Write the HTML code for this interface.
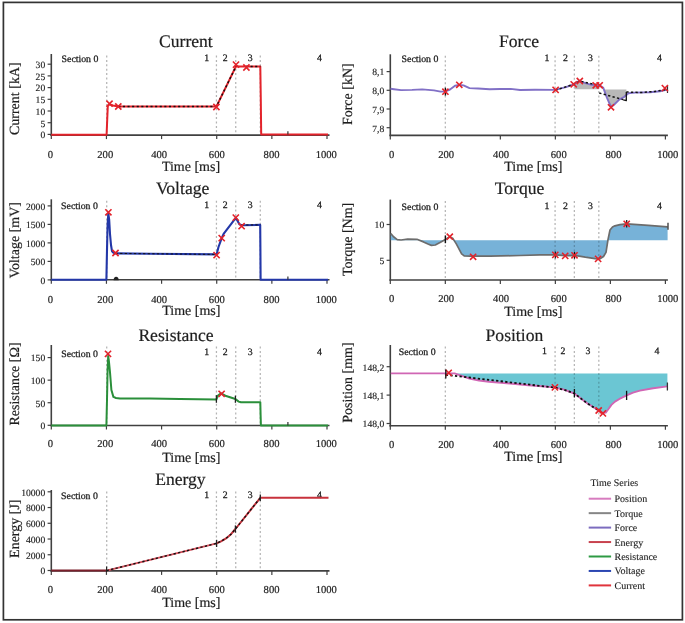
<!DOCTYPE html>
<html><head><meta charset="utf-8"><style>
html,body{margin:0;padding:0;background:#fff;}
svg{display:block;filter:blur(0.35px);}
</style></head><body>
<svg width="685" height="623" viewBox="0 0 685 623" font-family='"Liberation Serif", serif' text-rendering="geometricPrecision">
<rect x="0" y="0" width="685" height="623" fill="#fff"/>
<text x="185.90" y="46.60" font-size="17.6" text-anchor="middle" fill="#1e1e1e" stroke="#1e1e1e" stroke-width="0.2" >Current</text>
<line x1="106.72" y1="55.50" x2="106.72" y2="135.10" stroke="#b4b4b4" stroke-width="1.25" stroke-dasharray="2,2.4"/>
<line x1="216.44" y1="55.50" x2="216.44" y2="135.10" stroke="#b4b4b4" stroke-width="1.25" stroke-dasharray="2,2.4"/>
<line x1="235.74" y1="55.50" x2="235.74" y2="135.10" stroke="#b4b4b4" stroke-width="1.25" stroke-dasharray="2,2.4"/>
<line x1="260.28" y1="55.50" x2="260.28" y2="135.10" stroke="#b4b4b4" stroke-width="1.25" stroke-dasharray="2,2.4"/>
<line x1="51.30" y1="54.00" x2="51.30" y2="135.80" stroke="#404040" stroke-width="1.6" />
<line x1="50.50" y1="135.10" x2="329.50" y2="135.10" stroke="#404040" stroke-width="1.6" />
<line x1="51.30" y1="135.10" x2="51.30" y2="139.10" stroke="#404040" stroke-width="1.2" />
<line x1="106.44" y1="135.10" x2="106.44" y2="139.10" stroke="#404040" stroke-width="1.2" />
<line x1="161.58" y1="135.10" x2="161.58" y2="139.10" stroke="#404040" stroke-width="1.2" />
<line x1="216.72" y1="135.10" x2="216.72" y2="139.10" stroke="#404040" stroke-width="1.2" />
<line x1="271.86" y1="135.10" x2="271.86" y2="139.10" stroke="#404040" stroke-width="1.2" />
<line x1="327.00" y1="135.10" x2="327.00" y2="139.10" stroke="#404040" stroke-width="1.2" />
<line x1="47.60" y1="134.40" x2="51.30" y2="134.40" stroke="#404040" stroke-width="1.2" />
<text x="45.20" y="138.20" font-size="9.6" text-anchor="end" fill="#1e1e1e" stroke="#1e1e1e" stroke-width="0.15" >0</text>
<line x1="47.60" y1="122.70" x2="51.30" y2="122.70" stroke="#404040" stroke-width="1.2" />
<text x="45.20" y="126.50" font-size="9.6" text-anchor="end" fill="#1e1e1e" stroke="#1e1e1e" stroke-width="0.15" >5</text>
<line x1="47.60" y1="111.00" x2="51.30" y2="111.00" stroke="#404040" stroke-width="1.2" />
<text x="45.20" y="114.80" font-size="9.6" text-anchor="end" fill="#1e1e1e" stroke="#1e1e1e" stroke-width="0.15" >10</text>
<line x1="47.60" y1="99.30" x2="51.30" y2="99.30" stroke="#404040" stroke-width="1.2" />
<text x="45.20" y="103.10" font-size="9.6" text-anchor="end" fill="#1e1e1e" stroke="#1e1e1e" stroke-width="0.15" >15</text>
<line x1="47.60" y1="87.60" x2="51.30" y2="87.60" stroke="#404040" stroke-width="1.2" />
<text x="45.20" y="91.40" font-size="9.6" text-anchor="end" fill="#1e1e1e" stroke="#1e1e1e" stroke-width="0.15" >20</text>
<line x1="47.60" y1="75.90" x2="51.30" y2="75.90" stroke="#404040" stroke-width="1.2" />
<text x="45.20" y="79.70" font-size="9.6" text-anchor="end" fill="#1e1e1e" stroke="#1e1e1e" stroke-width="0.15" >25</text>
<line x1="47.60" y1="64.20" x2="51.30" y2="64.20" stroke="#404040" stroke-width="1.2" />
<text x="45.20" y="68.00" font-size="9.6" text-anchor="end" fill="#1e1e1e" stroke="#1e1e1e" stroke-width="0.15" >30</text>
<text x="50.40" y="157.80" font-size="10.6" text-anchor="middle" fill="#1e1e1e" stroke="#1e1e1e" stroke-width="0.2" >0</text>
<text x="105.24" y="157.80" font-size="10.6" text-anchor="middle" fill="#1e1e1e" stroke="#1e1e1e" stroke-width="0.2" >200</text>
<text x="159.18" y="157.80" font-size="10.6" text-anchor="middle" fill="#1e1e1e" stroke="#1e1e1e" stroke-width="0.2" >400</text>
<text x="216.82" y="157.80" font-size="10.6" text-anchor="middle" fill="#1e1e1e" stroke="#1e1e1e" stroke-width="0.2" >600</text>
<text x="271.56" y="157.80" font-size="10.6" text-anchor="middle" fill="#1e1e1e" stroke="#1e1e1e" stroke-width="0.2" >800</text>
<text x="326.30" y="157.80" font-size="10.6" text-anchor="middle" fill="#1e1e1e" stroke="#1e1e1e" stroke-width="0.2" >1000</text>
<text x="191.00" y="171.30" font-size="14" text-anchor="middle" fill="#1e1e1e" stroke="#1e1e1e" stroke-width="0.2" >Time [ms]</text>
<text transform="translate(19.30,98.70) rotate(-90)" font-size="14" text-anchor="middle" fill="#1e1e1e" stroke="#1e1e1e" stroke-width="0.2">Current [kA]</text>
<text x="61.60" y="62.20" font-size="9.8" text-anchor="start" fill="#1e1e1e" stroke="#1e1e1e" stroke-width="0.28" >Section 0</text>
<text x="206.80" y="60.80" font-size="9.8" text-anchor="middle" fill="#1e1e1e" stroke="#1e1e1e" stroke-width="0.28" >1</text>
<text x="225.30" y="60.80" font-size="9.8" text-anchor="middle" fill="#1e1e1e" stroke="#1e1e1e" stroke-width="0.28" >2</text>
<text x="250.30" y="60.80" font-size="9.8" text-anchor="middle" fill="#1e1e1e" stroke="#1e1e1e" stroke-width="0.28" >3</text>
<text x="319.50" y="60.80" font-size="9.8" text-anchor="middle" fill="#1e1e1e" stroke="#1e1e1e" stroke-width="0.28" >4</text>
<polyline points="51.30,134.80 106.60,134.80 107.20,120.00 107.80,106.00 109.50,104.20 113.00,105.50 118.30,106.60 216.40,106.60 236.00,66.30 240.00,66.60 260.30,66.60 260.80,100.00 261.20,134.60 328.00,134.60" fill="none" stroke="#e3232b" stroke-width="2.0" stroke-linejoin="round" />
<polyline points="118.30,106.60 216.40,106.60 236.00,66.30" fill="none" stroke="#111" stroke-width="1.5" stroke-linejoin="round" stroke-dasharray="2.1,2.5"/>
<polyline points="246.00,66.60 260.30,66.60" fill="none" stroke="#111" stroke-width="1.5" stroke-linejoin="round" stroke-dasharray="2.1,2.5"/>
<path d="M106.40,100.60L112.60,106.80M106.40,106.80L112.60,100.60" stroke="#e3232b" stroke-width="1.6" fill="none"/>
<path d="M115.20,103.40L121.40,109.60M115.20,109.60L121.40,103.40" stroke="#e3232b" stroke-width="1.6" fill="none"/>
<path d="M213.30,103.90L219.50,110.10M213.30,110.10L219.50,103.90" stroke="#e3232b" stroke-width="1.6" fill="none"/>
<path d="M232.90,61.50L239.10,67.70M232.90,67.70L239.10,61.50" stroke="#e3232b" stroke-width="1.6" fill="none"/>
<path d="M243.30,64.40L249.50,70.60M243.30,70.60L249.50,64.40" stroke="#e3232b" stroke-width="1.6" fill="none"/>
<line x1="287.90" y1="131.20" x2="287.90" y2="134.60" stroke="#333" stroke-width="1.2" />
<text x="182.60" y="194.00" font-size="17.6" text-anchor="middle" fill="#1e1e1e" stroke="#1e1e1e" stroke-width="0.2" >Voltage</text>
<line x1="106.72" y1="200.80" x2="106.72" y2="279.80" stroke="#b4b4b4" stroke-width="1.25" stroke-dasharray="2,2.4"/>
<line x1="216.44" y1="200.80" x2="216.44" y2="279.80" stroke="#b4b4b4" stroke-width="1.25" stroke-dasharray="2,2.4"/>
<line x1="235.74" y1="200.80" x2="235.74" y2="279.80" stroke="#b4b4b4" stroke-width="1.25" stroke-dasharray="2,2.4"/>
<line x1="260.28" y1="200.80" x2="260.28" y2="279.80" stroke="#b4b4b4" stroke-width="1.25" stroke-dasharray="2,2.4"/>
<line x1="51.30" y1="199.30" x2="51.30" y2="280.50" stroke="#404040" stroke-width="1.6" />
<line x1="50.50" y1="279.80" x2="329.50" y2="279.80" stroke="#404040" stroke-width="1.6" />
<line x1="51.30" y1="279.80" x2="51.30" y2="283.80" stroke="#404040" stroke-width="1.2" />
<line x1="106.44" y1="279.80" x2="106.44" y2="283.80" stroke="#404040" stroke-width="1.2" />
<line x1="161.58" y1="279.80" x2="161.58" y2="283.80" stroke="#404040" stroke-width="1.2" />
<line x1="216.72" y1="279.80" x2="216.72" y2="283.80" stroke="#404040" stroke-width="1.2" />
<line x1="271.86" y1="279.80" x2="271.86" y2="283.80" stroke="#404040" stroke-width="1.2" />
<line x1="327.00" y1="279.80" x2="327.00" y2="283.80" stroke="#404040" stroke-width="1.2" />
<line x1="47.60" y1="279.90" x2="51.30" y2="279.90" stroke="#404040" stroke-width="1.2" />
<text x="45.20" y="283.70" font-size="9.6" text-anchor="end" fill="#1e1e1e" stroke="#1e1e1e" stroke-width="0.15" >0</text>
<line x1="47.60" y1="261.40" x2="51.30" y2="261.40" stroke="#404040" stroke-width="1.2" />
<text x="45.20" y="265.20" font-size="9.6" text-anchor="end" fill="#1e1e1e" stroke="#1e1e1e" stroke-width="0.15" >500</text>
<line x1="47.60" y1="242.90" x2="51.30" y2="242.90" stroke="#404040" stroke-width="1.2" />
<text x="45.20" y="246.70" font-size="9.6" text-anchor="end" fill="#1e1e1e" stroke="#1e1e1e" stroke-width="0.15" >1000</text>
<line x1="47.60" y1="224.40" x2="51.30" y2="224.40" stroke="#404040" stroke-width="1.2" />
<text x="45.20" y="228.20" font-size="9.6" text-anchor="end" fill="#1e1e1e" stroke="#1e1e1e" stroke-width="0.15" >1500</text>
<line x1="47.60" y1="205.90" x2="51.30" y2="205.90" stroke="#404040" stroke-width="1.2" />
<text x="45.20" y="209.70" font-size="9.6" text-anchor="end" fill="#1e1e1e" stroke="#1e1e1e" stroke-width="0.15" >2000</text>
<text x="50.40" y="302.70" font-size="10.6" text-anchor="middle" fill="#1e1e1e" stroke="#1e1e1e" stroke-width="0.2" >0</text>
<text x="105.24" y="302.70" font-size="10.6" text-anchor="middle" fill="#1e1e1e" stroke="#1e1e1e" stroke-width="0.2" >200</text>
<text x="159.18" y="302.70" font-size="10.6" text-anchor="middle" fill="#1e1e1e" stroke="#1e1e1e" stroke-width="0.2" >400</text>
<text x="216.82" y="302.70" font-size="10.6" text-anchor="middle" fill="#1e1e1e" stroke="#1e1e1e" stroke-width="0.2" >600</text>
<text x="271.56" y="302.70" font-size="10.6" text-anchor="middle" fill="#1e1e1e" stroke="#1e1e1e" stroke-width="0.2" >800</text>
<text x="326.30" y="302.70" font-size="10.6" text-anchor="middle" fill="#1e1e1e" stroke="#1e1e1e" stroke-width="0.2" >1000</text>
<text x="191.30" y="315.40" font-size="14" text-anchor="middle" fill="#1e1e1e" stroke="#1e1e1e" stroke-width="0.2" >Time [ms]</text>
<text transform="translate(19.00,240.20) rotate(-90)" font-size="14" text-anchor="middle" fill="#1e1e1e" stroke="#1e1e1e" stroke-width="0.2">Voltage [mV]</text>
<text x="61.10" y="209.10" font-size="9.8" text-anchor="start" fill="#1e1e1e" stroke="#1e1e1e" stroke-width="0.28" >Section 0</text>
<text x="206.80" y="208.20" font-size="9.8" text-anchor="middle" fill="#1e1e1e" stroke="#1e1e1e" stroke-width="0.28" >1</text>
<text x="225.30" y="208.20" font-size="9.8" text-anchor="middle" fill="#1e1e1e" stroke="#1e1e1e" stroke-width="0.28" >2</text>
<text x="250.30" y="208.20" font-size="9.8" text-anchor="middle" fill="#1e1e1e" stroke="#1e1e1e" stroke-width="0.28" >3</text>
<text x="319.50" y="208.20" font-size="9.8" text-anchor="middle" fill="#1e1e1e" stroke="#1e1e1e" stroke-width="0.28" >4</text>
<polyline points="51.30,279.80 106.40,279.80 107.00,250.00 107.60,225.00 108.30,213.50 109.20,220.00 110.00,234.00 111.00,245.00 112.00,251.20 113.50,252.80 115.50,253.40 150.00,253.80 216.60,254.40 218.50,247.00 221.70,238.10 223.60,233.90 235.80,217.80 239.40,224.30 241.60,225.20 260.20,224.90 260.40,250.00 260.60,279.80 328.00,279.80" fill="none" stroke="#2337a8" stroke-width="2.1" stroke-linejoin="round" />
<polyline points="115.50,253.40 216.60,254.40" fill="none" stroke="#111" stroke-width="1.0" stroke-linejoin="round" stroke-dasharray="2.3,2.3"/>
<polyline points="241.60,225.00 260.20,224.90" fill="none" stroke="#111" stroke-width="1.0" stroke-linejoin="round" stroke-dasharray="2.3,2.3"/>
<path d="M105.30,209.20L111.50,215.40M105.30,215.40L111.50,209.20" stroke="#e3232b" stroke-width="1.6" fill="none"/>
<path d="M112.40,249.90L118.60,256.10M112.40,256.10L118.60,249.90" stroke="#e3232b" stroke-width="1.6" fill="none"/>
<path d="M213.50,252.00L219.70,258.20M213.50,258.20L219.70,252.00" stroke="#e3232b" stroke-width="1.6" fill="none"/>
<path d="M218.60,235.00L224.80,241.20M218.60,241.20L224.80,235.00" stroke="#e3232b" stroke-width="1.6" fill="none"/>
<path d="M232.70,214.50L238.90,220.70M232.70,220.70L238.90,214.50" stroke="#e3232b" stroke-width="1.6" fill="none"/>
<path d="M238.50,223.10L244.70,229.30M238.50,229.30L244.70,223.10" stroke="#e3232b" stroke-width="1.6" fill="none"/>
<path d="M113.6,280.2 a2.55,3.5 0 0 1 5.1,0z" fill="#222"/>
<line x1="287.90" y1="276.40" x2="287.90" y2="279.80" stroke="#333" stroke-width="1.2" />
<text x="176.00" y="341.00" font-size="17.6" text-anchor="middle" fill="#1e1e1e" stroke="#1e1e1e" stroke-width="0.2" >Resistance</text>
<line x1="106.72" y1="346.50" x2="106.72" y2="425.50" stroke="#b4b4b4" stroke-width="1.25" stroke-dasharray="2,2.4"/>
<line x1="216.44" y1="346.50" x2="216.44" y2="425.50" stroke="#b4b4b4" stroke-width="1.25" stroke-dasharray="2,2.4"/>
<line x1="235.74" y1="346.50" x2="235.74" y2="425.50" stroke="#b4b4b4" stroke-width="1.25" stroke-dasharray="2,2.4"/>
<line x1="260.28" y1="346.50" x2="260.28" y2="425.50" stroke="#b4b4b4" stroke-width="1.25" stroke-dasharray="2,2.4"/>
<line x1="51.30" y1="345.00" x2="51.30" y2="426.20" stroke="#404040" stroke-width="1.6" />
<line x1="50.50" y1="425.50" x2="329.50" y2="425.50" stroke="#404040" stroke-width="1.6" />
<line x1="51.30" y1="425.50" x2="51.30" y2="429.50" stroke="#404040" stroke-width="1.2" />
<line x1="106.44" y1="425.50" x2="106.44" y2="429.50" stroke="#404040" stroke-width="1.2" />
<line x1="161.58" y1="425.50" x2="161.58" y2="429.50" stroke="#404040" stroke-width="1.2" />
<line x1="216.72" y1="425.50" x2="216.72" y2="429.50" stroke="#404040" stroke-width="1.2" />
<line x1="271.86" y1="425.50" x2="271.86" y2="429.50" stroke="#404040" stroke-width="1.2" />
<line x1="327.00" y1="425.50" x2="327.00" y2="429.50" stroke="#404040" stroke-width="1.2" />
<line x1="47.60" y1="425.30" x2="51.30" y2="425.30" stroke="#404040" stroke-width="1.2" />
<text x="45.20" y="429.10" font-size="9.6" text-anchor="end" fill="#1e1e1e" stroke="#1e1e1e" stroke-width="0.15" >0</text>
<line x1="47.60" y1="402.73" x2="51.30" y2="402.73" stroke="#404040" stroke-width="1.2" />
<text x="45.20" y="406.53" font-size="9.6" text-anchor="end" fill="#1e1e1e" stroke="#1e1e1e" stroke-width="0.15" >50</text>
<line x1="47.60" y1="380.15" x2="51.30" y2="380.15" stroke="#404040" stroke-width="1.2" />
<text x="45.20" y="383.95" font-size="9.6" text-anchor="end" fill="#1e1e1e" stroke="#1e1e1e" stroke-width="0.15" >100</text>
<line x1="47.60" y1="357.57" x2="51.30" y2="357.57" stroke="#404040" stroke-width="1.2" />
<text x="45.20" y="361.38" font-size="9.6" text-anchor="end" fill="#1e1e1e" stroke="#1e1e1e" stroke-width="0.15" >150</text>
<text x="50.40" y="447.10" font-size="10.6" text-anchor="middle" fill="#1e1e1e" stroke="#1e1e1e" stroke-width="0.2" >0</text>
<text x="105.24" y="447.10" font-size="10.6" text-anchor="middle" fill="#1e1e1e" stroke="#1e1e1e" stroke-width="0.2" >200</text>
<text x="159.18" y="447.10" font-size="10.6" text-anchor="middle" fill="#1e1e1e" stroke="#1e1e1e" stroke-width="0.2" >400</text>
<text x="216.82" y="447.10" font-size="10.6" text-anchor="middle" fill="#1e1e1e" stroke="#1e1e1e" stroke-width="0.2" >600</text>
<text x="271.56" y="447.10" font-size="10.6" text-anchor="middle" fill="#1e1e1e" stroke="#1e1e1e" stroke-width="0.2" >800</text>
<text x="326.30" y="447.10" font-size="10.6" text-anchor="middle" fill="#1e1e1e" stroke="#1e1e1e" stroke-width="0.2" >1000</text>
<text x="191.30" y="461.50" font-size="14" text-anchor="middle" fill="#1e1e1e" stroke="#1e1e1e" stroke-width="0.2" >Time [ms]</text>
<text transform="translate(19.00,384.00) rotate(-90)" font-size="14" text-anchor="middle" fill="#1e1e1e" stroke="#1e1e1e" stroke-width="0.2">Resistance [Ω]</text>
<text x="61.20" y="356.50" font-size="9.8" text-anchor="start" fill="#1e1e1e" stroke="#1e1e1e" stroke-width="0.28" >Section 0</text>
<text x="206.80" y="354.70" font-size="9.8" text-anchor="middle" fill="#1e1e1e" stroke="#1e1e1e" stroke-width="0.28" >1</text>
<text x="225.30" y="354.70" font-size="9.8" text-anchor="middle" fill="#1e1e1e" stroke="#1e1e1e" stroke-width="0.28" >2</text>
<text x="250.30" y="354.70" font-size="9.8" text-anchor="middle" fill="#1e1e1e" stroke="#1e1e1e" stroke-width="0.28" >3</text>
<text x="319.50" y="354.70" font-size="9.8" text-anchor="middle" fill="#1e1e1e" stroke="#1e1e1e" stroke-width="0.28" >4</text>
<polyline points="51.30,425.40 106.40,425.40 107.00,400.00 107.60,370.00 108.20,356.00 109.00,362.00 110.00,372.30 111.40,390.00 113.40,396.90 116.00,398.00 120.00,398.40 150.00,398.60 180.00,399.00 216.40,399.40 218.00,395.50 221.00,393.30 225.40,395.70 235.40,399.00 238.70,401.60 241.00,402.30 260.30,402.30 260.60,415.00 260.90,425.40 328.00,425.40" fill="none" stroke="#2a8f3a" stroke-width="2.0" stroke-linejoin="round" />
<path d="M104.90,350.80L111.10,357.00M104.90,357.00L111.10,350.80" stroke="#e3232b" stroke-width="1.6" fill="none"/>
<path d="M218.50,390.70L224.70,396.90M218.50,396.90L224.70,390.70" stroke="#e3232b" stroke-width="1.6" fill="none"/>
<line x1="216.40" y1="395.20" x2="216.40" y2="402.80" stroke="#222" stroke-width="1.3" />
<line x1="235.40" y1="395.70" x2="235.40" y2="402.80" stroke="#222" stroke-width="1.3" />
<line x1="287.90" y1="422.00" x2="287.90" y2="425.40" stroke="#333" stroke-width="1.2" />
<text x="180.40" y="484.60" font-size="17.6" text-anchor="middle" fill="#1e1e1e" stroke="#1e1e1e" stroke-width="0.2" >Energy</text>
<line x1="106.72" y1="491.50" x2="106.72" y2="570.90" stroke="#b4b4b4" stroke-width="1.25" stroke-dasharray="2,2.4"/>
<line x1="216.44" y1="491.50" x2="216.44" y2="570.90" stroke="#b4b4b4" stroke-width="1.25" stroke-dasharray="2,2.4"/>
<line x1="235.74" y1="491.50" x2="235.74" y2="570.90" stroke="#b4b4b4" stroke-width="1.25" stroke-dasharray="2,2.4"/>
<line x1="260.28" y1="491.50" x2="260.28" y2="570.90" stroke="#b4b4b4" stroke-width="1.25" stroke-dasharray="2,2.4"/>
<line x1="51.30" y1="490.00" x2="51.30" y2="571.60" stroke="#404040" stroke-width="1.6" />
<line x1="50.50" y1="570.90" x2="329.50" y2="570.90" stroke="#404040" stroke-width="1.6" />
<line x1="51.30" y1="570.90" x2="51.30" y2="574.90" stroke="#404040" stroke-width="1.2" />
<line x1="106.44" y1="570.90" x2="106.44" y2="574.90" stroke="#404040" stroke-width="1.2" />
<line x1="161.58" y1="570.90" x2="161.58" y2="574.90" stroke="#404040" stroke-width="1.2" />
<line x1="216.72" y1="570.90" x2="216.72" y2="574.90" stroke="#404040" stroke-width="1.2" />
<line x1="271.86" y1="570.90" x2="271.86" y2="574.90" stroke="#404040" stroke-width="1.2" />
<line x1="327.00" y1="570.90" x2="327.00" y2="574.90" stroke="#404040" stroke-width="1.2" />
<line x1="47.60" y1="570.50" x2="51.30" y2="570.50" stroke="#404040" stroke-width="1.2" />
<text x="45.20" y="574.30" font-size="9.6" text-anchor="end" fill="#1e1e1e" stroke="#1e1e1e" stroke-width="0.15" >0</text>
<line x1="47.60" y1="554.76" x2="51.30" y2="554.76" stroke="#404040" stroke-width="1.2" />
<text x="45.20" y="558.56" font-size="9.6" text-anchor="end" fill="#1e1e1e" stroke="#1e1e1e" stroke-width="0.15" >2000</text>
<line x1="47.60" y1="539.02" x2="51.30" y2="539.02" stroke="#404040" stroke-width="1.2" />
<text x="45.20" y="542.82" font-size="9.6" text-anchor="end" fill="#1e1e1e" stroke="#1e1e1e" stroke-width="0.15" >4000</text>
<line x1="47.60" y1="523.28" x2="51.30" y2="523.28" stroke="#404040" stroke-width="1.2" />
<text x="45.20" y="527.08" font-size="9.6" text-anchor="end" fill="#1e1e1e" stroke="#1e1e1e" stroke-width="0.15" >6000</text>
<line x1="47.60" y1="507.54" x2="51.30" y2="507.54" stroke="#404040" stroke-width="1.2" />
<text x="45.20" y="511.34" font-size="9.6" text-anchor="end" fill="#1e1e1e" stroke="#1e1e1e" stroke-width="0.15" >8000</text>
<line x1="47.60" y1="491.80" x2="51.30" y2="491.80" stroke="#404040" stroke-width="1.2" />
<text x="45.20" y="495.60" font-size="9.6" text-anchor="end" fill="#1e1e1e" stroke="#1e1e1e" stroke-width="0.15" >10000</text>
<text x="50.40" y="592.70" font-size="10.6" text-anchor="middle" fill="#1e1e1e" stroke="#1e1e1e" stroke-width="0.2" >0</text>
<text x="105.24" y="592.70" font-size="10.6" text-anchor="middle" fill="#1e1e1e" stroke="#1e1e1e" stroke-width="0.2" >200</text>
<text x="159.18" y="592.70" font-size="10.6" text-anchor="middle" fill="#1e1e1e" stroke="#1e1e1e" stroke-width="0.2" >400</text>
<text x="216.82" y="592.70" font-size="10.6" text-anchor="middle" fill="#1e1e1e" stroke="#1e1e1e" stroke-width="0.2" >600</text>
<text x="271.56" y="592.70" font-size="10.6" text-anchor="middle" fill="#1e1e1e" stroke="#1e1e1e" stroke-width="0.2" >800</text>
<text x="326.30" y="592.70" font-size="10.6" text-anchor="middle" fill="#1e1e1e" stroke="#1e1e1e" stroke-width="0.2" >1000</text>
<text x="191.30" y="606.50" font-size="14" text-anchor="middle" fill="#1e1e1e" stroke="#1e1e1e" stroke-width="0.2" >Time [ms]</text>
<text transform="translate(19.00,528.70) rotate(-90)" font-size="14" text-anchor="middle" fill="#1e1e1e" stroke="#1e1e1e" stroke-width="0.2">Energy [J]</text>
<text x="61.10" y="499.30" font-size="9.8" text-anchor="start" fill="#1e1e1e" stroke="#1e1e1e" stroke-width="0.28" >Section 0</text>
<text x="206.80" y="497.70" font-size="9.8" text-anchor="middle" fill="#1e1e1e" stroke="#1e1e1e" stroke-width="0.28" >1</text>
<text x="225.30" y="497.70" font-size="9.8" text-anchor="middle" fill="#1e1e1e" stroke="#1e1e1e" stroke-width="0.28" >2</text>
<text x="250.30" y="497.70" font-size="9.8" text-anchor="middle" fill="#1e1e1e" stroke="#1e1e1e" stroke-width="0.28" >3</text>
<text x="319.50" y="497.70" font-size="9.8" text-anchor="middle" fill="#1e1e1e" stroke="#1e1e1e" stroke-width="0.28" >4</text>
<polyline points="51.30,570.60 106.60,570.60" fill="none" stroke="#7a1f2a" stroke-width="2.0" stroke-linejoin="round" />
<polyline points="106.60,570.60 216.60,543.40" fill="none" stroke="#d8505c" stroke-width="2.0" stroke-linejoin="round" />
<polyline points="216.60,543.40 221.00,541.30 226.00,538.40 231.00,534.20 235.40,529.00 260.30,497.80 328.50,497.80" fill="none" stroke="#c8323c" stroke-width="2.0" stroke-linejoin="round" />
<polyline points="106.60,570.60 216.60,543.40 221.00,541.30 226.00,538.40 231.00,534.20 235.40,529.00 260.30,497.80" fill="none" stroke="#111" stroke-width="1.4" stroke-linejoin="round" stroke-dasharray="2.3,2.3"/>
<line x1="106.60" y1="566.50" x2="106.60" y2="572.00" stroke="#222" stroke-width="1.2" />
<line x1="216.60" y1="539.80" x2="216.60" y2="547.00" stroke="#222" stroke-width="1.3" />
<line x1="235.40" y1="525.40" x2="235.40" y2="532.60" stroke="#222" stroke-width="1.3" />
<line x1="260.30" y1="494.40" x2="260.30" y2="500.90" stroke="#222" stroke-width="1.3" />
<text x="519.00" y="46.90" font-size="17.6" text-anchor="middle" fill="#1e1e1e" stroke="#1e1e1e" stroke-width="0.2" >Force</text>
<line x1="445.32" y1="55.80" x2="445.32" y2="135.40" stroke="#b4b4b4" stroke-width="1.25" stroke-dasharray="2,2.4"/>
<line x1="555.08" y1="55.80" x2="555.08" y2="135.40" stroke="#b4b4b4" stroke-width="1.25" stroke-dasharray="2,2.4"/>
<line x1="574.34" y1="55.80" x2="574.34" y2="135.40" stroke="#b4b4b4" stroke-width="1.25" stroke-dasharray="2,2.4"/>
<line x1="598.83" y1="55.80" x2="598.83" y2="135.40" stroke="#b4b4b4" stroke-width="1.25" stroke-dasharray="2,2.4"/>
<line x1="390.30" y1="54.30" x2="390.30" y2="136.10" stroke="#404040" stroke-width="1.6" />
<line x1="389.50" y1="135.40" x2="667.90" y2="135.40" stroke="#404040" stroke-width="1.6" />
<line x1="390.30" y1="135.40" x2="390.30" y2="139.40" stroke="#404040" stroke-width="1.2" />
<line x1="445.32" y1="135.40" x2="445.32" y2="139.40" stroke="#404040" stroke-width="1.2" />
<line x1="500.34" y1="135.40" x2="500.34" y2="139.40" stroke="#404040" stroke-width="1.2" />
<line x1="555.36" y1="135.40" x2="555.36" y2="139.40" stroke="#404040" stroke-width="1.2" />
<line x1="610.38" y1="135.40" x2="610.38" y2="139.40" stroke="#404040" stroke-width="1.2" />
<line x1="665.40" y1="135.40" x2="665.40" y2="139.40" stroke="#404040" stroke-width="1.2" />
<line x1="386.60" y1="127.70" x2="390.30" y2="127.70" stroke="#404040" stroke-width="1.2" />
<text x="384.20" y="131.50" font-size="9.6" text-anchor="end" fill="#1e1e1e" stroke="#1e1e1e" stroke-width="0.15" >7,8</text>
<line x1="386.60" y1="109.00" x2="390.30" y2="109.00" stroke="#404040" stroke-width="1.2" />
<text x="384.20" y="112.80" font-size="9.6" text-anchor="end" fill="#1e1e1e" stroke="#1e1e1e" stroke-width="0.15" >7,9</text>
<line x1="386.60" y1="90.30" x2="390.30" y2="90.30" stroke="#404040" stroke-width="1.2" />
<text x="384.20" y="94.10" font-size="9.6" text-anchor="end" fill="#1e1e1e" stroke="#1e1e1e" stroke-width="0.15" >8,0</text>
<line x1="386.60" y1="71.60" x2="390.30" y2="71.60" stroke="#404040" stroke-width="1.2" />
<text x="384.20" y="75.40" font-size="9.6" text-anchor="end" fill="#1e1e1e" stroke="#1e1e1e" stroke-width="0.15" >8,1</text>
<text x="391.70" y="157.90" font-size="10.6" text-anchor="middle" fill="#1e1e1e" stroke="#1e1e1e" stroke-width="0.2" >0</text>
<text x="446.22" y="157.90" font-size="10.6" text-anchor="middle" fill="#1e1e1e" stroke="#1e1e1e" stroke-width="0.2" >200</text>
<text x="501.04" y="157.90" font-size="10.6" text-anchor="middle" fill="#1e1e1e" stroke="#1e1e1e" stroke-width="0.2" >400</text>
<text x="558.76" y="157.90" font-size="10.6" text-anchor="middle" fill="#1e1e1e" stroke="#1e1e1e" stroke-width="0.2" >600</text>
<text x="613.48" y="157.90" font-size="10.6" text-anchor="middle" fill="#1e1e1e" stroke="#1e1e1e" stroke-width="0.2" >800</text>
<text x="667.80" y="157.90" font-size="10.6" text-anchor="middle" fill="#1e1e1e" stroke="#1e1e1e" stroke-width="0.2" >1000</text>
<text x="533.30" y="171.20" font-size="14" text-anchor="middle" fill="#1e1e1e" stroke="#1e1e1e" stroke-width="0.2" >Time [ms]</text>
<text transform="translate(352.10,94.20) rotate(-90)" font-size="14" text-anchor="middle" fill="#1e1e1e" stroke="#1e1e1e" stroke-width="0.2">Force [kN]</text>
<text x="401.60" y="62.30" font-size="9.8" text-anchor="start" fill="#1e1e1e" stroke="#1e1e1e" stroke-width="0.28" >Section 0</text>
<text x="546.90" y="61.00" font-size="9.8" text-anchor="middle" fill="#1e1e1e" stroke="#1e1e1e" stroke-width="0.28" >1</text>
<text x="565.50" y="61.00" font-size="9.8" text-anchor="middle" fill="#1e1e1e" stroke="#1e1e1e" stroke-width="0.28" >2</text>
<text x="590.40" y="61.00" font-size="9.8" text-anchor="middle" fill="#1e1e1e" stroke="#1e1e1e" stroke-width="0.28" >3</text>
<text x="659.50" y="61.00" font-size="9.8" text-anchor="middle" fill="#1e1e1e" stroke="#1e1e1e" stroke-width="0.28" >4</text>
<polygon points="574.50,89.20 574.50,83.50 579.30,80.70 585.40,83.10 591.60,84.80 597.70,85.30 599.20,85.50 599.20,89.20" fill="#b8b8b8" stroke="none" />
<polygon points="604.40,89.40 626.40,89.40 626.40,94.30 624.30,96.80 619.20,99.60 614.00,104.70 611.00,107.30 606.90,97.60" fill="#b8b8b8" stroke="none" />
<polyline points="390.50,88.80 394.00,89.20 401.00,90.10 412.00,89.90 422.20,89.40 434.00,90.40 440.60,91.60 445.40,91.40 450.00,89.50 455.00,85.80 459.30,84.90 463.50,85.40 469.50,88.10 478.00,88.50 489.70,89.30 500.00,89.00 510.70,88.90 520.00,90.00 535.00,89.80 555.30,89.90 565.00,87.30 573.70,84.50 579.30,80.90 585.40,83.10 591.60,84.80 599.70,85.40 603.30,87.90 606.90,97.60 611.00,107.00 614.00,104.70 619.20,99.60 624.30,96.80 628.40,93.20 635.00,92.60 650.00,92.30 660.00,91.20 667.00,89.60" fill="none" stroke="#8170c6" stroke-width="1.9" stroke-linejoin="round" />
<polyline points="555.30,90.20 573.70,84.30 579.80,81.20 599.70,85.40" fill="none" stroke="#111" stroke-width="1.5" stroke-linejoin="round" stroke-dasharray="2.3,2.3"/>
<polyline points="599.20,93.00 623.20,99.60" fill="none" stroke="#111" stroke-width="1.5" stroke-linejoin="round" stroke-dasharray="2.3,2.3"/>
<polyline points="626.30,92.00 641.00,92.50 655.00,91.40 666.00,89.60" fill="none" stroke="#111" stroke-width="1.5" stroke-linejoin="round" stroke-dasharray="2.3,2.3"/>
<polyline points="623.20,99.80 626.30,100.60 626.30,92.00" fill="none" stroke="#111" stroke-width="1.3" stroke-linejoin="round" />
<line x1="445.40" y1="87.70" x2="445.40" y2="95.60" stroke="#111" stroke-width="1.4" />
<line x1="667.50" y1="86.00" x2="667.50" y2="93.00" stroke="#333" stroke-width="1.2" />
<path d="M442.30,88.60L448.50,94.80M442.30,94.80L448.50,88.60" stroke="#e3232b" stroke-width="1.6" fill="none"/>
<path d="M456.20,81.70L462.40,87.90M456.20,87.90L462.40,81.70" stroke="#e3232b" stroke-width="1.6" fill="none"/>
<path d="M552.50,86.80L558.70,93.00M552.50,93.00L558.70,86.80" stroke="#e3232b" stroke-width="1.6" fill="none"/>
<path d="M570.60,81.20L576.80,87.40M570.60,87.40L576.80,81.20" stroke="#e3232b" stroke-width="1.6" fill="none"/>
<path d="M576.70,77.90L582.90,84.10M576.70,84.10L582.90,77.90" stroke="#e3232b" stroke-width="1.6" fill="none"/>
<path d="M592.60,82.20L598.80,88.40M592.60,88.40L598.80,82.20" stroke="#e3232b" stroke-width="1.6" fill="none"/>
<path d="M596.60,82.20L602.80,88.40M596.60,88.40L602.80,82.20" stroke="#e3232b" stroke-width="1.6" fill="none"/>
<path d="M607.90,104.20L614.10,110.40M607.90,110.40L614.10,104.20" stroke="#e3232b" stroke-width="1.6" fill="none"/>
<path d="M661.80,85.00L668.00,91.20M661.80,91.20L668.00,85.00" stroke="#e3232b" stroke-width="1.6" fill="none"/>
<text x="519.50" y="194.20" font-size="17.6" text-anchor="middle" fill="#1e1e1e" stroke="#1e1e1e" stroke-width="0.2" >Torque</text>
<line x1="445.32" y1="201.10" x2="445.32" y2="280.00" stroke="#b4b4b4" stroke-width="1.25" stroke-dasharray="2,2.4"/>
<line x1="555.08" y1="201.10" x2="555.08" y2="280.00" stroke="#b4b4b4" stroke-width="1.25" stroke-dasharray="2,2.4"/>
<line x1="574.34" y1="201.10" x2="574.34" y2="280.00" stroke="#b4b4b4" stroke-width="1.25" stroke-dasharray="2,2.4"/>
<line x1="598.83" y1="201.10" x2="598.83" y2="280.00" stroke="#b4b4b4" stroke-width="1.25" stroke-dasharray="2,2.4"/>
<line x1="390.30" y1="199.60" x2="390.30" y2="280.70" stroke="#404040" stroke-width="1.6" />
<line x1="389.50" y1="280.00" x2="667.90" y2="280.00" stroke="#404040" stroke-width="1.6" />
<line x1="390.30" y1="280.00" x2="390.30" y2="284.00" stroke="#404040" stroke-width="1.2" />
<line x1="445.32" y1="280.00" x2="445.32" y2="284.00" stroke="#404040" stroke-width="1.2" />
<line x1="500.34" y1="280.00" x2="500.34" y2="284.00" stroke="#404040" stroke-width="1.2" />
<line x1="555.36" y1="280.00" x2="555.36" y2="284.00" stroke="#404040" stroke-width="1.2" />
<line x1="610.38" y1="280.00" x2="610.38" y2="284.00" stroke="#404040" stroke-width="1.2" />
<line x1="665.40" y1="280.00" x2="665.40" y2="284.00" stroke="#404040" stroke-width="1.2" />
<line x1="386.60" y1="260.30" x2="390.30" y2="260.30" stroke="#404040" stroke-width="1.2" />
<text x="384.20" y="264.10" font-size="9.6" text-anchor="end" fill="#1e1e1e" stroke="#1e1e1e" stroke-width="0.15" >5</text>
<line x1="386.60" y1="224.50" x2="390.30" y2="224.50" stroke="#404040" stroke-width="1.2" />
<text x="384.20" y="228.30" font-size="9.6" text-anchor="end" fill="#1e1e1e" stroke="#1e1e1e" stroke-width="0.15" >10</text>
<text x="391.70" y="302.40" font-size="10.6" text-anchor="middle" fill="#1e1e1e" stroke="#1e1e1e" stroke-width="0.2" >0</text>
<text x="446.22" y="302.40" font-size="10.6" text-anchor="middle" fill="#1e1e1e" stroke="#1e1e1e" stroke-width="0.2" >200</text>
<text x="501.04" y="302.40" font-size="10.6" text-anchor="middle" fill="#1e1e1e" stroke="#1e1e1e" stroke-width="0.2" >400</text>
<text x="558.76" y="302.40" font-size="10.6" text-anchor="middle" fill="#1e1e1e" stroke="#1e1e1e" stroke-width="0.2" >600</text>
<text x="613.48" y="302.40" font-size="10.6" text-anchor="middle" fill="#1e1e1e" stroke="#1e1e1e" stroke-width="0.2" >800</text>
<text x="667.80" y="302.40" font-size="10.6" text-anchor="middle" fill="#1e1e1e" stroke="#1e1e1e" stroke-width="0.2" >1000</text>
<text x="533.30" y="316.10" font-size="14" text-anchor="middle" fill="#1e1e1e" stroke="#1e1e1e" stroke-width="0.2" >Time [ms]</text>
<text transform="translate(352.10,239.40) rotate(-90)" font-size="14" text-anchor="middle" fill="#1e1e1e" stroke="#1e1e1e" stroke-width="0.2">Torque [Nm]</text>
<text x="401.60" y="210.00" font-size="9.8" text-anchor="start" fill="#1e1e1e" stroke="#1e1e1e" stroke-width="0.28" >Section 0</text>
<text x="546.90" y="208.70" font-size="9.8" text-anchor="middle" fill="#1e1e1e" stroke="#1e1e1e" stroke-width="0.28" >1</text>
<text x="565.50" y="208.70" font-size="9.8" text-anchor="middle" fill="#1e1e1e" stroke="#1e1e1e" stroke-width="0.28" >2</text>
<text x="590.40" y="208.70" font-size="9.8" text-anchor="middle" fill="#1e1e1e" stroke="#1e1e1e" stroke-width="0.28" >3</text>
<text x="659.50" y="208.70" font-size="9.8" text-anchor="middle" fill="#1e1e1e" stroke="#1e1e1e" stroke-width="0.28" >4</text>
<polygon points="390.80,240.30 390.80,233.50 393.30,236.50 397.20,239.60 401.10,240.00 407.70,239.20 416.90,239.30 423.50,241.90 428.00,244.00 431.40,245.40 435.30,245.00 440.00,242.60 444.50,240.00 449.80,240.30 453.00,240.30 456.30,243.90 461.60,253.80 464.20,255.90 470.00,256.20 490.00,256.10 520.00,255.50 540.00,254.90 555.30,254.80 565.20,255.60 574.50,255.30 585.30,257.20 595.00,258.60 600.00,258.80 603.50,256.50 606.00,252.40 608.00,239.60 610.00,230.00 612.50,227.00 614.90,225.80 620.00,224.60 626.70,223.80 648.40,225.40 667.60,226.80 667.60,240.30" fill="#77b2d8" stroke="none" />
<clipPath id="clp1"><polygon points="390.80,240.30 390.80,233.50 393.30,236.50 397.20,239.60 401.10,240.00 407.70,239.20 416.90,239.30 423.50,241.90 428.00,244.00 431.40,245.40 435.30,245.00 440.00,242.60 444.50,240.00 449.80,240.30 453.00,240.30 456.30,243.90 461.60,253.80 464.20,255.90 470.00,256.20 490.00,256.10 520.00,255.50 540.00,254.90 555.30,254.80 565.20,255.60 574.50,255.30 585.30,257.20 595.00,258.60 600.00,258.80 603.50,256.50 606.00,252.40 608.00,239.60 610.00,230.00 612.50,227.00 614.90,225.80 620.00,224.60 626.70,223.80 648.40,225.40 667.60,226.80 667.60,240.30"/></clipPath>
<line x1="445.32" y1="201.10" x2="445.32" y2="280.00" stroke="rgba(0,0,0,0.22)" stroke-width="1.25" stroke-dasharray="2,2.4" clip-path="url(#clp1)"/>
<line x1="555.08" y1="201.10" x2="555.08" y2="280.00" stroke="rgba(0,0,0,0.22)" stroke-width="1.25" stroke-dasharray="2,2.4" clip-path="url(#clp1)"/>
<line x1="574.34" y1="201.10" x2="574.34" y2="280.00" stroke="rgba(0,0,0,0.22)" stroke-width="1.25" stroke-dasharray="2,2.4" clip-path="url(#clp1)"/>
<line x1="598.83" y1="201.10" x2="598.83" y2="280.00" stroke="rgba(0,0,0,0.22)" stroke-width="1.25" stroke-dasharray="2,2.4" clip-path="url(#clp1)"/>
<polyline points="390.80,233.50 393.30,236.50 397.20,239.60 401.10,240.00 407.70,239.20 416.90,239.30 423.50,241.90 428.00,244.00 431.40,245.40 435.30,245.00 440.00,242.60 444.50,240.00 449.80,236.80 453.00,238.60 456.30,243.90 461.60,253.80 464.20,255.90 470.00,256.20 490.00,256.10 520.00,255.50 540.00,254.90 555.30,254.80 565.20,255.60 574.50,255.30 585.30,257.20 595.00,258.60 600.00,258.80 603.50,256.50 606.00,252.40 608.00,239.60 610.00,230.00 612.50,227.00 614.90,225.80 620.00,224.60 626.70,223.80 648.40,225.40 667.60,226.80" fill="none" stroke="#6c6c6c" stroke-width="1.7" stroke-linejoin="round" />
<line x1="445.40" y1="235.40" x2="445.40" y2="243.20" stroke="#111" stroke-width="1.4" />
<line x1="668.00" y1="222.80" x2="668.00" y2="229.70" stroke="#333" stroke-width="1.3" />
<line x1="555.30" y1="251.50" x2="555.30" y2="258.50" stroke="#111" stroke-width="1.2" />
<line x1="574.50" y1="251.80" x2="574.50" y2="258.80" stroke="#111" stroke-width="1.2" />
<line x1="626.70" y1="220.00" x2="626.70" y2="227.50" stroke="#111" stroke-width="1.2" />
<path d="M446.70,233.60L452.90,239.80M446.70,239.80L452.90,233.60" stroke="#e3232b" stroke-width="1.6" fill="none"/>
<path d="M470.00,253.70L476.20,259.90M470.00,259.90L476.20,253.70" stroke="#e3232b" stroke-width="1.6" fill="none"/>
<path d="M552.20,251.80L558.40,258.00M552.20,258.00L558.40,251.80" stroke="#e3232b" stroke-width="1.6" fill="none"/>
<path d="M562.10,252.80L568.30,259.00M562.10,259.00L568.30,252.80" stroke="#e3232b" stroke-width="1.6" fill="none"/>
<path d="M571.40,252.20L577.60,258.40M571.40,258.40L577.60,252.20" stroke="#e3232b" stroke-width="1.6" fill="none"/>
<path d="M595.00,255.80L601.20,262.00M595.00,262.00L601.20,255.80" stroke="#e3232b" stroke-width="1.6" fill="none"/>
<path d="M623.60,220.70L629.80,226.90M623.60,226.90L629.80,220.70" stroke="#e3232b" stroke-width="1.6" fill="none"/>
<text x="514.40" y="341.40" font-size="17.6" text-anchor="middle" fill="#1e1e1e" stroke="#1e1e1e" stroke-width="0.2" >Position</text>
<line x1="445.32" y1="346.50" x2="445.32" y2="425.70" stroke="#b4b4b4" stroke-width="1.25" stroke-dasharray="2,2.4"/>
<line x1="555.08" y1="346.50" x2="555.08" y2="425.70" stroke="#b4b4b4" stroke-width="1.25" stroke-dasharray="2,2.4"/>
<line x1="574.34" y1="346.50" x2="574.34" y2="425.70" stroke="#b4b4b4" stroke-width="1.25" stroke-dasharray="2,2.4"/>
<line x1="598.83" y1="346.50" x2="598.83" y2="425.70" stroke="#b4b4b4" stroke-width="1.25" stroke-dasharray="2,2.4"/>
<line x1="390.30" y1="345.00" x2="390.30" y2="426.40" stroke="#404040" stroke-width="1.6" />
<line x1="389.50" y1="425.70" x2="667.90" y2="425.70" stroke="#404040" stroke-width="1.6" />
<line x1="390.30" y1="425.70" x2="390.30" y2="429.70" stroke="#404040" stroke-width="1.2" />
<line x1="445.32" y1="425.70" x2="445.32" y2="429.70" stroke="#404040" stroke-width="1.2" />
<line x1="500.34" y1="425.70" x2="500.34" y2="429.70" stroke="#404040" stroke-width="1.2" />
<line x1="555.36" y1="425.70" x2="555.36" y2="429.70" stroke="#404040" stroke-width="1.2" />
<line x1="610.38" y1="425.70" x2="610.38" y2="429.70" stroke="#404040" stroke-width="1.2" />
<line x1="665.40" y1="425.70" x2="665.40" y2="429.70" stroke="#404040" stroke-width="1.2" />
<line x1="386.60" y1="423.50" x2="390.30" y2="423.50" stroke="#404040" stroke-width="1.2" />
<text x="384.20" y="427.30" font-size="9.6" text-anchor="end" fill="#1e1e1e" stroke="#1e1e1e" stroke-width="0.15" >148,0</text>
<line x1="386.60" y1="395.10" x2="390.30" y2="395.10" stroke="#404040" stroke-width="1.2" />
<text x="384.20" y="398.90" font-size="9.6" text-anchor="end" fill="#1e1e1e" stroke="#1e1e1e" stroke-width="0.15" >148,1</text>
<line x1="386.60" y1="366.70" x2="390.30" y2="366.70" stroke="#404040" stroke-width="1.2" />
<text x="384.20" y="370.50" font-size="9.6" text-anchor="end" fill="#1e1e1e" stroke="#1e1e1e" stroke-width="0.15" >148,2</text>
<text x="391.70" y="447.70" font-size="10.6" text-anchor="middle" fill="#1e1e1e" stroke="#1e1e1e" stroke-width="0.2" >0</text>
<text x="446.22" y="447.70" font-size="10.6" text-anchor="middle" fill="#1e1e1e" stroke="#1e1e1e" stroke-width="0.2" >200</text>
<text x="501.04" y="447.70" font-size="10.6" text-anchor="middle" fill="#1e1e1e" stroke="#1e1e1e" stroke-width="0.2" >400</text>
<text x="558.76" y="447.70" font-size="10.6" text-anchor="middle" fill="#1e1e1e" stroke="#1e1e1e" stroke-width="0.2" >600</text>
<text x="613.48" y="447.70" font-size="10.6" text-anchor="middle" fill="#1e1e1e" stroke="#1e1e1e" stroke-width="0.2" >800</text>
<text x="667.80" y="447.70" font-size="10.6" text-anchor="middle" fill="#1e1e1e" stroke="#1e1e1e" stroke-width="0.2" >1000</text>
<text x="533.30" y="461.20" font-size="14" text-anchor="middle" fill="#1e1e1e" stroke="#1e1e1e" stroke-width="0.2" >Time [ms]</text>
<text transform="translate(352.00,382.60) rotate(-90)" font-size="14" text-anchor="middle" fill="#1e1e1e" stroke="#1e1e1e" stroke-width="0.2">Position [mm]</text>
<text x="398.80" y="355.20" font-size="9.8" text-anchor="start" fill="#1e1e1e" stroke="#1e1e1e" stroke-width="0.28" >Section 0</text>
<text x="544.40" y="354.10" font-size="9.8" text-anchor="middle" fill="#1e1e1e" stroke="#1e1e1e" stroke-width="0.28" >1</text>
<text x="563.00" y="354.10" font-size="9.8" text-anchor="middle" fill="#1e1e1e" stroke="#1e1e1e" stroke-width="0.28" >2</text>
<text x="587.90" y="354.10" font-size="9.8" text-anchor="middle" fill="#1e1e1e" stroke="#1e1e1e" stroke-width="0.28" >3</text>
<text x="657.00" y="354.10" font-size="9.8" text-anchor="middle" fill="#1e1e1e" stroke="#1e1e1e" stroke-width="0.28" >4</text>
<polygon points="445.80,373.40 454.60,373.40 461.00,375.60 469.40,378.50 479.00,380.50 489.10,381.70 510.00,383.50 528.50,385.20 545.00,386.50 554.90,387.40 564.00,389.70 574.40,393.50 586.80,403.00 598.70,410.50 602.90,413.00 605.70,412.60 608.50,409.00 611.40,404.90 615.00,401.60 619.00,399.20 626.60,395.40 633.00,392.60 639.90,390.60 653.20,388.20 667.40,386.40 667.40,373.40" fill="#6bc6d3" stroke="none" />
<clipPath id="clp2"><polygon points="445.80,373.40 454.60,373.40 461.00,375.60 469.40,378.50 479.00,380.50 489.10,381.70 510.00,383.50 528.50,385.20 545.00,386.50 554.90,387.40 564.00,389.70 574.40,393.50 586.80,403.00 598.70,410.50 602.90,413.00 605.70,412.60 608.50,409.00 611.40,404.90 615.00,401.60 619.00,399.20 626.60,395.40 633.00,392.60 639.90,390.60 653.20,388.20 667.40,386.40 667.40,373.40"/></clipPath>
<line x1="445.32" y1="346.50" x2="445.32" y2="425.70" stroke="rgba(0,0,0,0.22)" stroke-width="1.25" stroke-dasharray="2,2.4" clip-path="url(#clp2)"/>
<line x1="555.08" y1="346.50" x2="555.08" y2="425.70" stroke="rgba(0,0,0,0.22)" stroke-width="1.25" stroke-dasharray="2,2.4" clip-path="url(#clp2)"/>
<line x1="574.34" y1="346.50" x2="574.34" y2="425.70" stroke="rgba(0,0,0,0.22)" stroke-width="1.25" stroke-dasharray="2,2.4" clip-path="url(#clp2)"/>
<line x1="598.83" y1="346.50" x2="598.83" y2="425.70" stroke="rgba(0,0,0,0.22)" stroke-width="1.25" stroke-dasharray="2,2.4" clip-path="url(#clp2)"/>
<polyline points="390.80,373.40 445.80,373.40 454.60,373.40 461.00,375.60 469.40,378.50 479.00,380.50 489.10,381.70 510.00,383.50 528.50,385.20 545.00,386.50 554.90,387.40 564.00,389.70 574.40,393.50 586.80,403.00 598.70,410.50 602.90,413.00 605.70,412.60 608.50,409.00 611.40,404.90 615.00,401.60 619.00,399.20 626.60,395.40 633.00,392.60 639.90,390.60 653.20,388.20 667.40,386.40" fill="none" stroke="#d066b4" stroke-width="1.9" stroke-linejoin="round" />
<polyline points="445.80,374.80 554.90,387.60 564.00,389.70 574.40,393.50 586.80,403.00 598.70,410.50" fill="none" stroke="#111" stroke-width="1.8" stroke-linejoin="round" stroke-dasharray="2.3,2.3"/>
<path d="M445.60,369.70L451.80,375.90M445.60,375.90L451.80,369.70" stroke="#e3232b" stroke-width="1.6" fill="none"/>
<path d="M551.80,384.30L558.00,390.50M551.80,390.50L558.00,384.30" stroke="#e3232b" stroke-width="1.6" fill="none"/>
<path d="M595.60,407.40L601.80,413.60M595.60,413.60L601.80,407.40" stroke="#e3232b" stroke-width="1.6" fill="none"/>
<path d="M599.80,410.30L606.00,416.50M599.80,416.50L606.00,410.30" stroke="#e3232b" stroke-width="1.6" fill="none"/>
<line x1="445.80" y1="369.50" x2="445.80" y2="378.50" stroke="#111" stroke-width="1.3" />
<line x1="574.40" y1="389.00" x2="574.40" y2="397.50" stroke="#111" stroke-width="1.3" />
<line x1="626.60" y1="390.80" x2="626.60" y2="400.00" stroke="#111" stroke-width="1.3" />
<line x1="667.40" y1="382.50" x2="667.40" y2="390.50" stroke="#333" stroke-width="1.3" />
<text x="614.40" y="486.30" font-size="10.0" text-anchor="middle" fill="#1e1e1e" stroke="#1e1e1e" stroke-width="0.12" >Time Series</text>
<line x1="588.70" y1="498.70" x2="611.10" y2="498.70" stroke="#d77cbf" stroke-width="2.0" />
<text x="614.50" y="502.20" font-size="10.0" text-anchor="start" fill="#1e1e1e" stroke="#1e1e1e" stroke-width="0.12" >Position</text>
<line x1="588.70" y1="513.15" x2="611.10" y2="513.15" stroke="#868686" stroke-width="2.0" />
<text x="614.50" y="516.65" font-size="10.0" text-anchor="start" fill="#1e1e1e" stroke="#1e1e1e" stroke-width="0.12" >Torque</text>
<line x1="588.70" y1="527.60" x2="611.10" y2="527.60" stroke="#7c6cbf" stroke-width="2.0" />
<text x="614.50" y="531.10" font-size="10.0" text-anchor="start" fill="#1e1e1e" stroke="#1e1e1e" stroke-width="0.12" >Force</text>
<line x1="588.70" y1="542.05" x2="611.10" y2="542.05" stroke="#c8424e" stroke-width="2.0" />
<text x="614.50" y="545.55" font-size="10.0" text-anchor="start" fill="#1e1e1e" stroke="#1e1e1e" stroke-width="0.12" >Energy</text>
<line x1="588.70" y1="556.50" x2="611.10" y2="556.50" stroke="#2e9a44" stroke-width="2.0" />
<text x="614.50" y="560.00" font-size="10.0" text-anchor="start" fill="#1e1e1e" stroke="#1e1e1e" stroke-width="0.12" >Resistance</text>
<line x1="588.70" y1="570.95" x2="611.10" y2="570.95" stroke="#2b46b2" stroke-width="2.0" />
<text x="614.50" y="574.45" font-size="10.0" text-anchor="start" fill="#1e1e1e" stroke="#1e1e1e" stroke-width="0.12" >Voltage</text>
<line x1="588.70" y1="585.40" x2="611.10" y2="585.40" stroke="#e0343c" stroke-width="2.0" />
<text x="614.50" y="588.90" font-size="10.0" text-anchor="start" fill="#1e1e1e" stroke="#1e1e1e" stroke-width="0.12" >Current</text>
<rect x="3.4" y="2.4" width="679.0" height="617.4" fill="none" stroke="#333" stroke-width="1.7"/>
</svg>
</body></html>
